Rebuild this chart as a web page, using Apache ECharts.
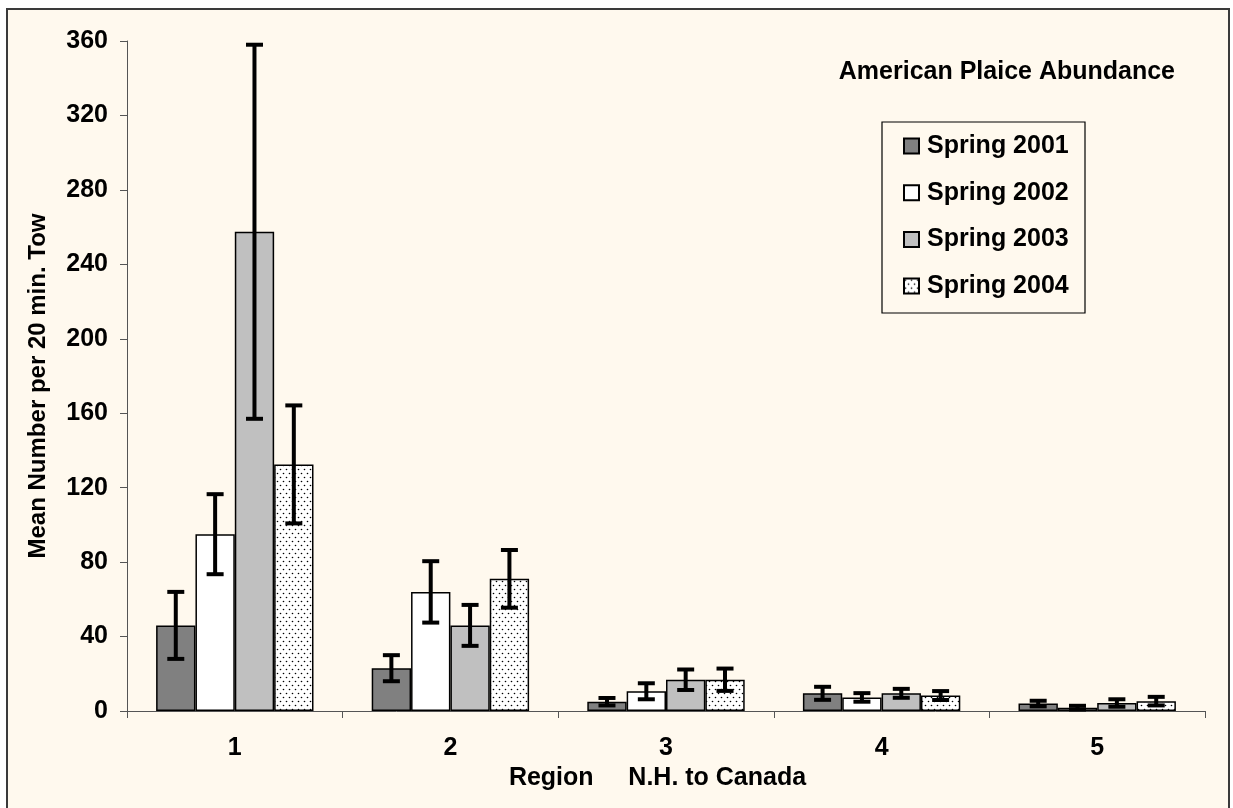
<!DOCTYPE html>
<html>
<head>
<meta charset="utf-8">
<script src="https://cdn.jsdelivr.net/npm/echarts@6/dist/echarts.min.js"></script>
<style>
html,body{margin:0;padding:0;background:#ffffff;}
#chart{width:1233px;height:808px;}
</style>
</head>
<body>
<div id="chart"></div>
<script>
// ---- data ----
const categories = ['1', '2', '3', '4', '5'];
const seriesNames = ['Spring 2001', 'Spring 2002', 'Spring 2003', 'Spring 2004'];
const spring2001 = [46, 23, 5, 9.5, 4];
const spring2002 = [95, 64, 10.6, 7.3, 1.8];
const spring2003 = [257.5, 46, 16.8, 9.5, 4.3];
const spring2004 = [132.5, 71, 16.8, 8.3, 5.3];
const err2001 = [18, 7, 2, 3.5, 1.5];
const err2002 = [21.5, 16.5, 4.3, 2.3, 1];
const err2003 = [100.5, 11, 5.5, 2.4, 2];
const err2004 = [31.7, 15.5, 6, 2.4, 2.3];
const yTicks = [0, 40, 80, 120, 160, 200, 240, 280, 320, 360];

const values = [spring2001, spring2002, spring2003, spring2004];
const errors = [err2001, err2002, err2003, err2004];

// dotted pattern
const tile = document.createElement('canvas');
tile.width = 6; tile.height = 8;
const tctx = tile.getContext('2d');
tctx.fillStyle = '#ffffff';
tctx.fillRect(0, 0, 6, 8);
tctx.fillStyle = '#000000';
tctx.beginPath(); tctx.arc(1.5, 1.5, 0.8, 0, Math.PI * 2); tctx.fill();
tctx.beginPath(); tctx.arc(4.5, 5.5, 0.8, 0, Math.PI * 2); tctx.fill();

const fills = ['#808080', '#ffffff', '#c0c0c0', { image: tile, repeat: 'repeat' }];
const FONT = "'Liberation Sans', Arial, sans-serif";
const FS = 25;
const GAP = 0.27;

const chart = echarts.init(document.getElementById('chart'), null, { renderer: 'canvas' });

const barSeries = seriesNames.map((name, i) => ({
  name: name,
  type: 'bar',
  data: values[i],
  barGap: '0%',
  barCategoryGap: (GAP * 100) + '%',
  itemStyle: { color: fills[i], borderColor: '#000', borderWidth: 1.5 },
  emphasis: { disabled: true },
  z: 2
}));

const errSeries = seriesNames.map((name, i) => ({
  type: 'custom',
  name: name + ' err',
  data: values[i].map((v, k) => [k, v - errors[i][k], v + errors[i][k]]),
  encode: { x: 0, y: [1, 2] },
  z: 5,
  silent: true,
  renderItem: function (params, api) {
    const k = api.value(0);
    const lo = api.coord([k, api.value(1)]);
    const hi = api.coord([k, api.value(2)]);
    const catW = api.size([1, 0])[0];
    const barW = catW * (1 - GAP) / 4;
    const x = lo[0] + (i - 1.5) * barW;
    const half = 8.5;
    const style = { stroke: '#000', lineWidth: 4, fill: null };
    return {
      type: 'group',
      children: [
        { type: 'line', shape: { x1: x, y1: hi[1], x2: x, y2: lo[1] }, style: style },
        { type: 'line', shape: { x1: x - half, y1: hi[1], x2: x + half, y2: hi[1] }, style: style },
        { type: 'line', shape: { x1: x - half, y1: lo[1], x2: x + half, y2: lo[1] }, style: style }
      ]
    };
  }
}));

const option = {
  animation: false,
  backgroundColor: '#ffffff',
  textStyle: { fontFamily: FONT },
  graphic: [
    { type: 'rect', z: -10, shape: { x: 7, y: 9, width: 1222, height: 810 },
      style: { fill: '#FFF9EE', stroke: '#3a3a3a', lineWidth: 2 } },
    { type: 'rect', z: 10, shape: { x: 882, y: 122, width: 203, height: 191 },
      style: { fill: 'rgba(0,0,0,0)', stroke: '#000', lineWidth: 1.2 } },
    { type: 'text', z: 10, x: 38, y: 386, rotation: Math.PI / 2,
      style: { text: 'Mean Number per 20 min. Tow', fill: '#000', align: 'center', verticalAlign: 'middle',
        font: 'bold 24px ' + FONT } }
  ],
  title: {
    text: 'American Plaice Abundance',
    right: 58, top: 60, padding: 0,
    textStyle: { fontFamily: FONT, fontWeight: 'bold', fontSize: FS, color: '#000', lineHeight: 25 }
  },
  legend: {
    data: seriesNames,
    orient: 'vertical',
    left: 882, top: 122,
    padding: [11.5, 10, 12, 21],
    itemWidth: 15, itemHeight: 15,
    itemGap: 21.7,
    icon: 'rect',
    selectedMode: false,
    textStyle: { fontFamily: FONT, fontWeight: 'bold', fontSize: FS, color: '#000', lineHeight: 25, padding: [0, 0, 0, 3] }
  },
  grid: { left: 127, right: 28, top: 41, bottom: 97, containLabel: false },
  xAxis: {
    type: 'category',
    data: categories,
    name: 'Region     N.H. to Canada',
    nameLocation: 'middle',
    nameGap: 51,
    nameTextStyle: { fontFamily: FONT, fontWeight: 'bold', fontSize: FS, color: '#000', padding: [0, 17, 0, 0] },
    axisLine: { lineStyle: { color: '#555', width: 1 } },
    axisTick: { show: true, length: 7, lineStyle: { color: '#555' } },
    axisLabel: { fontFamily: FONT, fontWeight: 'bold', fontSize: FS, color: '#000', margin: 25 },
    splitLine: { show: false }
  },
  yAxis: {
    type: 'value',
    min: 0, max: 360, interval: 40,
    axisLine: { show: true, lineStyle: { color: '#555', width: 1 } },
    axisTick: { show: true, length: 7, lineStyle: { color: '#555' } },
    axisLabel: {
      fontFamily: FONT, fontWeight: 'bold', fontSize: FS, color: '#000', margin: 19,
      formatter: v => (yTicks.indexOf(v) >= 0 ? String(v) : '')
    },
    splitLine: { show: false }
  },
  series: barSeries.concat(errSeries)
};
chart.setOption(option);
</script>
</body>
</html>
